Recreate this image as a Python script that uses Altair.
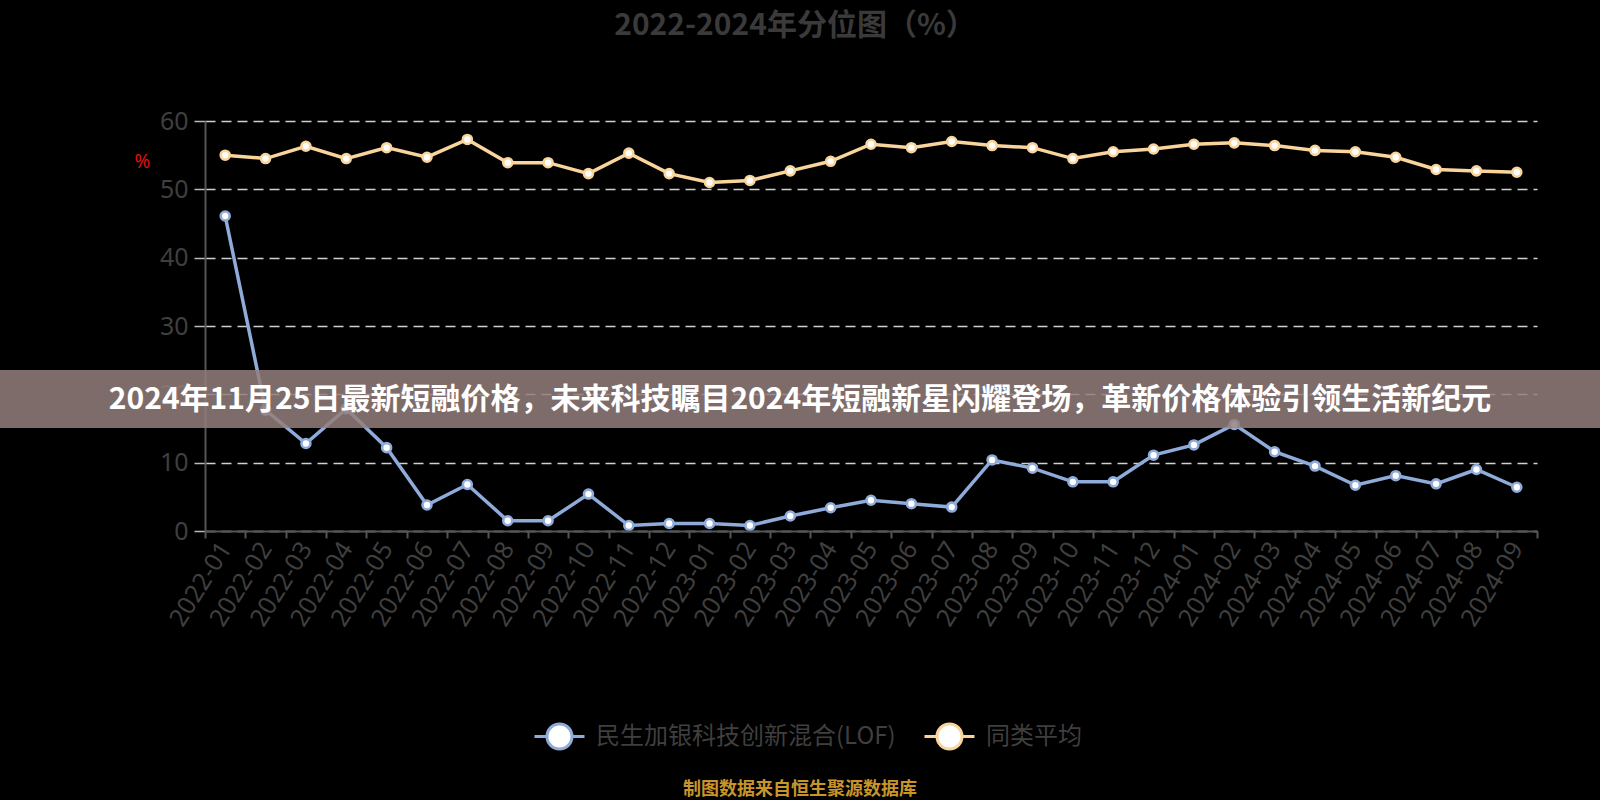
import altair as alt
import pandas as pd

# ---------------- data ----------------
months = [
    "2022-01", "2022-02", "2022-03", "2022-04", "2022-05", "2022-06",
    "2022-07", "2022-08", "2022-09", "2022-10", "2022-11", "2022-12",
    "2023-01", "2023-02", "2023-03", "2023-04", "2023-05", "2023-06",
    "2023-07", "2023-08", "2023-09", "2023-10", "2023-11", "2023-12",
    "2024-01", "2024-02", "2024-03", "2024-04", "2024-05", "2024-06",
    "2024-07", "2024-08", "2024-09",
]
fund_values = [
    46.1, 17.7, 12.8, 17.9, 12.2, 3.8, 6.8, 1.5, 1.5, 5.4,
    0.8, 1.1, 1.1, 0.8, 2.2, 3.4, 4.5, 4.0, 3.5, 10.4,
    9.2, 7.2, 7.2, 11.1, 12.6, 15.6, 11.6, 9.5, 6.7, 8.1,
    6.9, 9.0, 6.4,
]
avg_values = [
    55.0, 54.5, 56.3, 54.5, 56.1, 54.7, 57.3, 53.9, 53.9, 52.3,
    55.3, 52.3, 51.0, 51.3, 52.7, 54.1, 56.6, 56.1, 57.0, 56.4,
    56.1, 54.5, 55.5, 55.9, 56.6, 56.8, 56.4, 55.7, 55.5, 54.7,
    52.9, 52.7, 52.5,
]
series_names = ["民生加银科技创新混合(LOF)", "同类平均"]
series_colors = ["#8eabd9", "#f9d49b"]
y_ticks = [0, 10, 20, 30, 40, 50, 60]

chart_title = "2022-2024年分位图（%）"
banner_text = "2024年11月25日最新短融价格，未来科技瞩目2024年短融新星闪耀登场，革新价格体验引领生活新纪元"
footer_text = "制图数据来自恒生聚源数据库"

df = pd.DataFrame({
    "month": months + months,
    "value": fund_values + avg_values,
    "series": [series_names[0]] * len(months) + [series_names[1]] * len(months),
})

CJK = "Noto Sans CJK SC"
LATIN = "Noto Sans"
GREY_TXT = "#3f3f3f"

legend_symbol = "M-1,0L-0.5,0M0.5,0L1,0M-0.5,0A0.5,0.5,0,1,0,0.5,0A0.5,0.5,0,1,0,-0.5,0Z"

legend = alt.Legend(
    title=None,
    orient="none",
    legendX=328,
    legendY=589,
    direction="horizontal",
    symbolType=legend_symbol,
    symbolSize=2500,
    symbolStrokeWidth=3,
    symbolFillColor="white",
    symbolOpacity=1,
    labelFont=CJK,
    labelFontSize=24,
    labelColor=GREY_TXT,
    labelLimit=600,
    labelOffset=10,
    columnPadding=22,
)

color = alt.Color(
    "series:N",
    sort=series_names,
    scale=alt.Scale(domain=series_names, range=series_colors),
    legend=legend,
)

x = alt.X(
    "month:O",
    sort=months,
    bandPosition=0.5,
    scale=alt.Scale(type="band", paddingInner=0, paddingOuter=0),
    axis=alt.Axis(
        title=None,
        labelAngle=-58,
        labelAlign="right",
        labelBaseline="middle",
        labelFont=LATIN,
        labelFontSize=25,
        labelColor=GREY_TXT,
        labelPadding=6,
        tickBand="extent",
        tickSize=7,
        tickColor="#555555",
        tickWidth=2,
        domainColor="#555555",
        domainWidth=2,
        grid=False,
        labelOverlap=False,
        zindex=2,
    ),
)

y = alt.Y(
    "value:Q",
    scale=alt.Scale(domain=[0, 60], nice=False, zero=True),
    axis=alt.Axis(
        title="%",
        titleColor="#e01010",
        titleFont=LATIN,
        titleFontSize=19,
        titleFontWeight="normal",
        titleAngle=0,
        titleAlign="center",
        titleBaseline="middle",
        titleX=-63,
        titleY=40,
        values=y_ticks,
        labelFont=LATIN,
        labelFontSize=25,
        labelColor=GREY_TXT,
        labelPadding=6,
        tickSize=11,
        tickColor="#bbbbbb",
        tickWidth=1.5,
        domainColor="#555555",
        domainWidth=2,
        grid=True,
        gridColor="#d0d0d0",
        gridDash=[10, 6],
        gridWidth=1.5,
    ),
)

base = alt.Chart(df)

lines = base.mark_line(strokeWidth=3.5).encode(x=x, y=y, color=color)
points = base.mark_point(
    filled=False, fill="white", fillOpacity=1, opacity=1, size=80, strokeWidth=2.6
).encode(x=x, y=y, color=color)

banner_df = pd.DataFrame({"t": [banner_text]})
banner_rect = alt.Chart(banner_df).mark_rect(
    fill="#947f7c", opacity=0.85
).encode(
    x=alt.value(-205), x2=alt.value(1395), y=alt.value(249), y2=alt.value(307)
)
banner_label = alt.Chart(banner_df).mark_text(
    font=CJK, fontSize=30, fontWeight="bold", color="white",
    align="center", baseline="middle",
).encode(text="t:N", x=alt.value(595), y=alt.value(279))

footer_df = pd.DataFrame({"t": [footer_text]})
footer = alt.Chart(footer_df).mark_text(
    font=CJK, fontSize=18, fontWeight="bold", color="#c9952b",
    align="center", baseline="middle",
).encode(text="t:N", x=alt.value(595), y=alt.value(669))

chart = alt.layer(lines, points, banner_rect, banner_label, footer).properties(
    width=1332,
    height=410,
    autosize=alt.AutoSizeParams(type="none"),
    padding={"left": 205, "top": 121, "right": 63, "bottom": 269},
    background="#000000",
    title=alt.TitleParams(
        text=chart_title,
        anchor="middle",
        frame="group",
        font=CJK,
        fontSize=30,
        fontWeight="bold",
        color="#3a3a3a",
        offset=68,
        dx=-76,
    ),
).configure_view(stroke=None)

chart.save("out.html", embed_options={"renderer": "svg", "actions": False})
